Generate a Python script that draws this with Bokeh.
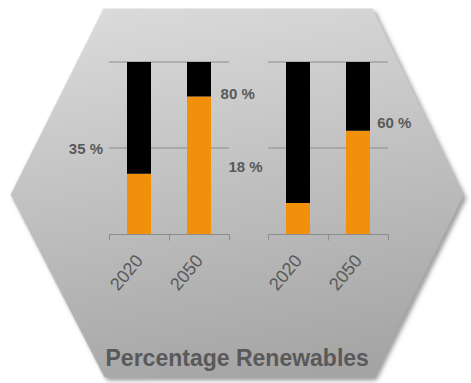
import numpy as np
from math import radians

from bokeh.plotting import figure
from bokeh.models import Range1d, LinearAxis, FixedTicker
from bokeh.core.properties import value
from bokeh.embed import file_html
from bokeh.resources import INLINE

# ---- data -------------------------------------------------------------
years = ["2020", "2050"]
left_renewables = [35, 80]     # % renewables, left panel
right_renewables = [18, 60]    # % renewables, right panel
total_share = 100
gridline_values = [50, 100]
title_text = "Percentage Renewables"

# ---- layout constants -------------------------------------------------
W, H = 471, 383
BASE_PX, TOP_PX = 233.5, 61.5          # screen rows of 0 % and 100 %
CAT_PX = 60.0                          # width of one category slot
LEFT_EDGE_PX, RIGHT_EDGE_PX = 108.5, 267.5
ORANGE, BLACK = "#F0900B", "#000000"
TEXT_GREY, RULE_GREY = "#595959", "#8c8c8c"
FONT = "Liberation Sans"

# ---- hexagon backdrop (gradient + drop shadow) ------------------------
HEX = [(103, 8), (372, 8), (463, 195), (373, 377), (104, 377), (10, 194)]
SS = 3
gy = (np.arange(H * SS) + 0.5) / SS
gx = (np.arange(W * SS) + 0.5) / SS
GX, GY = np.meshgrid(gx, gy)


def coverage(verts, dx=0.0, dy=0.0):
    inside = np.ones_like(GX, dtype=bool)
    n = len(verts)
    for i in range(n):
        x0, y0 = verts[i][0] + dx, verts[i][1] + dy
        x1, y1 = verts[(i + 1) % n][0] + dx, verts[(i + 1) % n][1] + dy
        inside &= (x1 - x0) * (GY - y0) - (y1 - y0) * (GX - x0) >= 0
    return inside.reshape(H, SS, W, SS).mean(axis=(1, 3))


def box_blur(a, r):
    k = np.ones(2 * r + 1) / (2 * r + 1)
    a = np.apply_along_axis(lambda v: np.convolve(v, k, mode="same"), 0, a)
    a = np.apply_along_axis(lambda v: np.convolve(v, k, mode="same"), 1, a)
    return a


hex_cov = coverage(HEX)
shadow = box_blur(box_blur(coverage(HEX, 3, 3), 2), 2)

py, px = np.mgrid[0:H, 0:W] + 0.5
grey = 221 - 50 * (py - 8) / 369 - 10 * (px - 10) / 453

canvas = 255.0 * np.ones((H, W))
canvas = canvas * (1 - 0.6 * shadow) + 95 * 0.6 * shadow
canvas = canvas * (1 - hex_cov) + grey * hex_cov
canvas = np.clip(canvas, 0, 255).astype(np.uint8)

rgba = np.empty((H, W, 4), dtype=np.uint8)
rgba[..., 0] = canvas
rgba[..., 1] = canvas
rgba[..., 2] = canvas
rgba[..., 3] = 255
backdrop = rgba[::-1].copy().view(np.uint32).reshape(H, W)

# ---- figure -----------------------------------------------------------
p = figure(width=W, height=H, x_range=Range1d(0, W), y_range=Range1d(0, H),
           x_axis_type=None, y_axis_type=None, min_border=0,
           toolbar_location=None, output_backend="svg")
p.outline_line_color = None
p.background_fill_color = "white"
p.border_fill_color = "white"

ppu = (BASE_PX - TOP_PX) / total_share
p.extra_y_ranges = {"pct": Range1d(-(H - BASE_PX) / ppu, BASE_PX / ppu)}


def cat_range(edge_px):
    return Range1d(0.5 - edge_px / CAT_PX, 0.5 + (W - edge_px) / CAT_PX)


p.extra_x_ranges = {"left": cat_range(LEFT_EDGE_PX),
                    "right": cat_range(RIGHT_EDGE_PX)}

p.image_rgba(image=[backdrop], x=0, y=0, dw=W, dh=H)

positions = list(range(1, len(years) + 1))
lo, hi = 0.5, len(years) + 0.5

panels = [
    ("left", left_renewables, [(0.40, 50, "right"), (2.36, 81.7, "left")]),
    ("right", right_renewables, [(0.41, 39, "right"), (2.32, 65, "left")]),
]

for name, vals, label_spots in panels:
    rng = dict(x_range_name=name, y_range_name="pct")
    for g in gridline_values:
        p.segment(x0=lo, x1=hi, y0=g, y1=g, line_color=RULE_GREY,
                  line_width=1, **rng)
    p.vbar(x=positions, width=0.4, bottom=0, top=vals,
           fill_color=ORANGE, line_color=None, **rng)
    p.vbar(x=positions, width=0.4, bottom=vals, top=[total_share] * len(vals),
           fill_color=BLACK, line_color=None, **rng)

    # category separators along the baseline
    sep_axis = LinearAxis(fixed_location=0, bounds=(lo, hi),
                          ticker=FixedTicker(ticks=[lo + i for i in range(len(years) + 1)]),
                          major_label_overrides={lo + i: "" for i in range(len(years) + 1)},
                          axis_line_color=RULE_GREY, major_tick_line_color=RULE_GREY,
                          major_tick_in=0, major_tick_out=6,
                          minor_tick_line_color=None, **rng)
    p.add_layout(sep_axis, "below")

    # year labels at category centres
    year_axis = LinearAxis(fixed_location=0, bounds=(lo, hi),
                           ticker=FixedTicker(ticks=positions),
                           major_label_overrides={k: y for k, y in zip(positions, years)},
                           axis_line_color=None, major_tick_line_color=None,
                           major_tick_in=0, major_tick_out=6,
                           minor_tick_line_color=None,
                           major_label_orientation=radians(50),
                           major_label_standoff=17,
                           major_label_text_font=FONT,
                           major_label_text_font_size="18px",
                           major_label_text_color=TEXT_GREY, **rng)
    p.add_layout(year_axis, "below")

    for v, (lx, ly, align) in zip(vals, label_spots):
        p.text(x=[lx], y=[ly], text=[f"{v} %"], text_align=align,
               text_baseline="middle", text_font=value(FONT),
               text_font_style="bold", text_font_size="15px",
               text_color=TEXT_GREY, **rng)

p.text(x=[236.7], y=[H - 357], text=[title_text], text_align="center",
       text_baseline="middle", text_font=value(FONT),
       text_font_style="bold", text_font_size="23px", text_color=TEXT_GREY)

open("out.html", "w").write(file_html(p, INLINE))
